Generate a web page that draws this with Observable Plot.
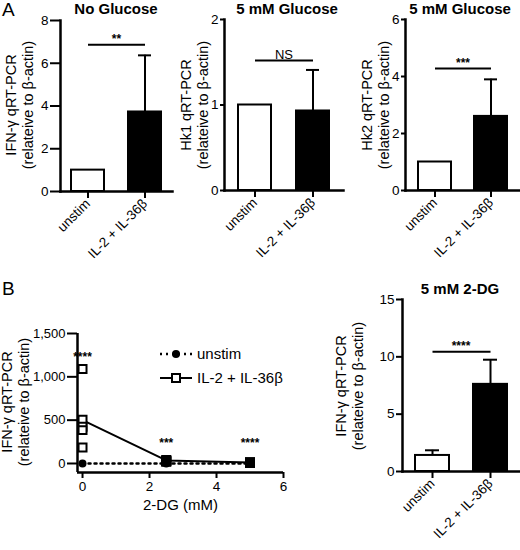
<!DOCTYPE html>
<html>
<head>
<meta charset="utf-8">
<script src="https://cdn.jsdelivr.net/npm/d3@7"></script>
<script src="https://cdn.jsdelivr.net/npm/@observablehq/plot@0.6"></script>
<style>
body { margin: 0; background: #fff; }
#fig { position: relative; width: 520px; height: 550px; overflow: hidden;
  font-family: "Liberation Sans", Arial, sans-serif; color: #000; }
#fig > svg { position: absolute; overflow: visible; }
.title { position: absolute; font-weight: bold; font-size: 15px; transform: translateX(-50%); white-space: nowrap; }
.letter { position: absolute; font-size: 19px; }
.ylab { position: absolute; font-size: 14.5px; line-height: 17px; white-space: pre; text-align: center;
  transform: translate(-50%, -50%) rotate(-90deg); }
</style>
</head>
<body>
<div id="fig"></div>
<script>
const font = "Liberation Sans, Arial, sans-serif";
const groups = ["unstim", "IL-2 + IL-36β"];

// A: fold change vs unstim (mean, SD)
const ifngNoGlc = [1.0, 3.72];
const ifngNoGlcSd = [0, 2.65];
const hk1Glc = [1.0, 0.93];
const hk1GlcSd = [0, 0.48];
const hk2Glc = [1.0, 2.6];
const hk2GlcSd = [0, 1.3];

// B right: 5 mM 2-DG
const ifng2dg = [1.4, 7.6];
const ifng2dgSd = [0.45, 2.15];

// B left: dose response
const doses = [0, 2.5, 5];
const unstimMean = [1, 1, 1];
const stimMean = [500, 35, 10];
const stimReps = [[1090, 505, 425, 385, 185], [40, 25, 30, 20, 35], [12, 8, 10, 6, 14]];
const doseStars = ["****", "***", "****"];
const doseStarY = [1230, 230, 230];

const fig = d3.select("#fig");
const fmt = d3.format(",");

function title(txt, x, y) {
  fig.append("div").attr("class", "title").style("left", x + "px").style("top", y + "px").text(txt);
}

// rotated two-line y label, centred on (x, y)
function yLabel(txt, x, y) {
  fig.append("div").attr("class", "ylab").style("left", x + "px").style("top", y + "px").text(txt);
}

function place(chart, left, top) {
  d3.select(chart).style("left", left + "px").style("top", top + "px");
  fig.append(() => chart);
}

function barPanel(o) {
  const rows = groups.map((g, i) => ({g, v: o.values[i], e: o.sd[i]}));
  const errs = rows.filter(d => d.e > 0);
  const chart = Plot.plot({
    width: o.w, height: o.h,
    marginLeft: o.ml, marginRight: o.mr, marginTop: o.mt, marginBottom: o.mb,
    style: {fontFamily: font, fontSize: "13.5px", color: "black", background: "transparent", overflow: "visible"},
    x: {domain: groups, paddingInner: o.pi, paddingOuter: o.po, label: null},
    y: {domain: o.yDomain, label: null},
    marks: [
      Plot.ruleX(errs, {x: "g", y1: "v", y2: d => d.v + d.e, strokeWidth: 2}),
      Plot.tickY(errs, {x: "g", y: d => d.v + d.e, strokeWidth: 2, inset: 10}),
      Plot.barY(rows, {x: "g", y: "v", fill: d => d.g === groups[0] ? "white" : "black", stroke: "black", strokeWidth: 2}),
      Plot.link([o.sig], {x1: () => groups[0], x2: () => groups[1], y1: "y", y2: "y", strokeWidth: 2}),
      Plot.text([o.sig], {y: "y", text: "t", lineAnchor: "bottom", dy: -2, fontSize: o.sig.t === "NS" ? 13 : 12, fontWeight: o.sig.t === "NS" ? "normal" : "bold"}),
      Plot.axisY({ticks: o.yTicks, tickFormat: fmt, tickSize: o.ts, tickPadding: 2, strokeWidth: 2}),
      Plot.axisX({tickRotate: -45, tickSize: 7, tickPadding: 3, strokeWidth: 2}),
      Plot.frame({anchor: "left", strokeWidth: 2.5}),
      Plot.frame({anchor: "bottom", strokeWidth: 2.5})
    ]
  });
  place(chart, o.left, o.top);
  yLabel(o.label, o.lx, o.ly);
}

const yLab = "IFN-γ qRT-PCR\n(relateive to β-actin)";

barPanel({left: 0, top: 0, w: 176, h: 265, ml: 60, mr: 4, mt: 20, mb: 74, ts: 10,
  values: ifngNoGlc, sd: ifngNoGlcSd, yDomain: [0, 8], yTicks: [0, 2, 4, 6, 8],
  pi: 0.426, po: 0.187, lx: 20, ly: 105, label: yLab, sig: {y: 6.87, t: "**"}});

barPanel({left: 176, top: 0, w: 170, h: 265, ml: 48, mr: 3, mt: 19, mb: 75, ts: 4,
  values: hk1Glc, sd: hk1GlcSd, yDomain: [0, 2], yTicks: [0, 1, 2],
  pi: 0.436, po: 0.235, lx: 195, ly: 105, label: "Hk1 qRT-PCR\n(relateive to β-actin)", sig: {y: 1.52, t: "NS"}});

barPanel({left: 346, top: 0, w: 174, h: 265, ml: 59, mr: 0, mt: 19, mb: 75, ts: 4,
  values: hk2Glc, sd: hk2GlcSd, yDomain: [0, 6], yTicks: [0, 2, 4, 6],
  pi: 0.416, po: 0.217, lx: 376, ly: 105, label: "Hk2 qRT-PCR\n(relateive to β-actin)", sig: {y: 4.28, t: "***"}});

barPanel({left: 290, top: 280, w: 230, h: 270, ml: 112, mr: 1, mt: 19, mb: 79, ts: 6,
  values: ifng2dg, sd: ifng2dgSd, yDomain: [0, 15], yTicks: [0, 5, 10, 15],
  pi: 0.414, po: 0.207, lx: 350, ly: 386, label: yLab, sig: {y: 10.45, t: "****"}});

// dose-response panel
const meanRows = doses.flatMap((d, i) => [
  {dose: d, v: unstimMean[i], s: "unstim"},
  {dose: d, v: stimMean[i], s: "stim"}
]);
const repRows = doses.flatMap((d, i) => stimReps[i].map(v => ({dose: d, v})));
const starRows = doses.map((d, i) => ({dose: d, y: doseStarY[i], t: doseStars[i]}));

const line = Plot.plot({
  width: 300, height: 270,
  marginLeft: 77, marginRight: 17, marginTop: 53, marginBottom: 78,
  style: {fontFamily: font, fontSize: "13px", color: "black", background: "transparent", overflow: "visible"},
  x: {domain: [-0.15, 6], label: null},
  y: {domain: [-104, 1500], label: null},
  marks: [
    Plot.line(meanRows.filter(d => d.s === "unstim"), {x: "dose", y: "v", strokeWidth: 2.5, strokeDasharray: "2,4"}),
    Plot.line(meanRows.filter(d => d.s === "stim"), {x: "dose", y: "v", strokeWidth: 2}),
    Plot.dot(meanRows.filter(d => d.s === "unstim"), {x: "dose", y: "v", r: 4, fill: "black"}),
    Plot.dot(repRows, {x: "dose", y: "v", symbol: "square", r: 4.5, stroke: "black", strokeWidth: 2,
      fill: d => d.dose > 0 ? "black" : "white"}),
    Plot.text(starRows, {x: "dose", y: "y", text: "t", fontSize: 12, fontWeight: "bold"}),
    Plot.text(["2-DG (mM)"], {frameAnchor: "bottom", dy: 37, fontSize: 15}),
    Plot.axisY({ticks: [0, 500, 1000, 1500], tickFormat: fmt, tickSize: 10, tickPadding: 2, strokeWidth: 2}),
    Plot.axisX({ticks: [0, 2, 4, 6], tickFormat: fmt, tickSize: 6, tickPadding: 3, strokeWidth: 2, fontSize: 13.5}),
    Plot.ruleX([-0.15], {strokeWidth: 2.5}),
    Plot.ruleY([-104], {strokeWidth: 2.5})
  ]
});
place(line, 0, 280);
yLabel(yLab, 16, 402);

// legend for dose-response
const leg = fig.append("svg").attr("width", 140).attr("height", 40)
  .style("left", "158px").style("top", "343px");
const lg = leg.append("g").attr("font-family", font).attr("font-size", 15);
lg.append("line").attr("x1", 2).attr("x2", 34).attr("y1", 11).attr("y2", 11)
  .attr("stroke", "black").attr("stroke-width", 2.5).attr("stroke-dasharray", "2,4");
lg.append("circle").attr("cx", 18).attr("cy", 11).attr("r", 4).attr("fill", "black");
lg.append("text").attr("x", 39).attr("y", 16).text("unstim");
lg.append("line").attr("x1", 2).attr("x2", 34).attr("y1", 35).attr("y2", 35)
  .attr("stroke", "black").attr("stroke-width", 2);
lg.append("rect").attr("x", 14).attr("y", 31).attr("width", 8).attr("height", 8)
  .attr("fill", "white").attr("stroke", "black").attr("stroke-width", 2);
lg.append("text").attr("x", 39).attr("y", 40).text("IL-2 + IL-36β");

title("No Glucose", 116, 0);
title("5 mM Glucose", 287, 0);
title("5 mM Glucose", 460, 0);
title("5 mM 2-DG", 460, 280);
fig.append("div").attr("class", "letter").style("left", "2px").style("top", "-1px").text("A");
fig.append("div").attr("class", "letter").style("left", "2px").style("top", "278px").text("B");
</script>
</body>
</html>
